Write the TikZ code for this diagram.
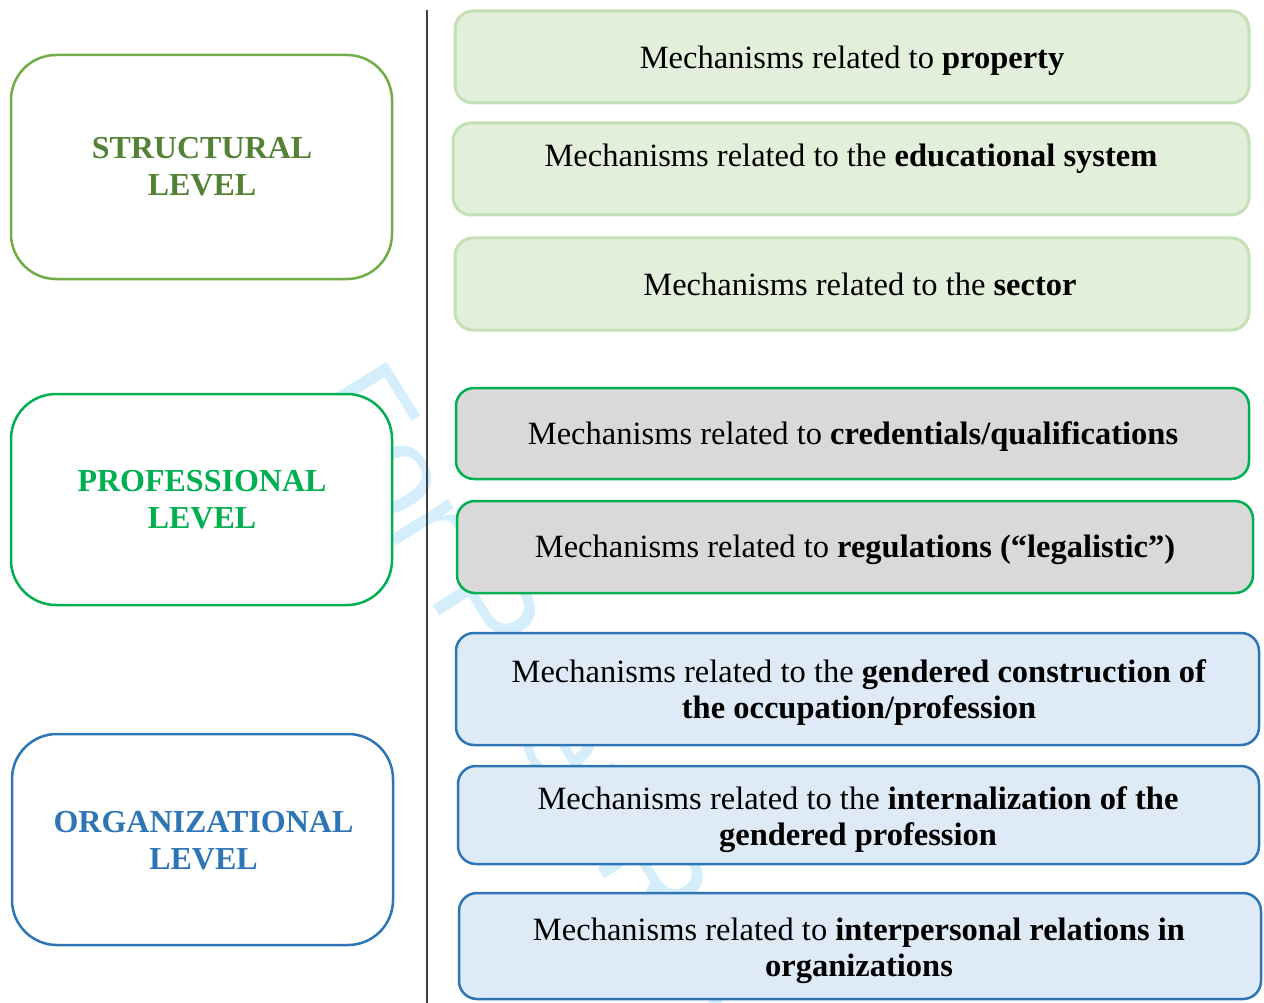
\documentclass[tikz,border=0pt]{standalone}
\usepackage{fontspec}
\setmainfont{Liberation Serif}
\newfontfamily\wmfont{Liberation Sans}
\definecolor{strgreen}{HTML}{70AD47}
\definecolor{strtext}{HTML}{548235}
\definecolor{progreen}{HTML}{00B050}
\definecolor{orgblue}{HTML}{2E75B6}
\definecolor{lightgreen}{HTML}{E2EFDA}
\definecolor{lightgreenborder}{HTML}{C5E0B4}
\definecolor{greyfill}{HTML}{D9D9D9}
\definecolor{lightblue}{HTML}{DEEBF7}
\definecolor{wmcyan}{RGB}{212,238,251}
\definecolor{divider}{RGB}{64,64,64}

\tikzset{
  levelbox/.style={draw, fill=white, rounded corners=45pt, line width=2.5pt,
    minimum width=381pt, inner sep=0pt},
  leveltext/.style={align=center, inner sep=0pt,
    font=\bfseries\fontsize{32}{37}\selectfont},
  mechbox/.style={draw, rounded corners=18pt, line width=2.5pt, inner sep=0pt},
  strbox/.style={mechbox, fill=lightgreen, draw=lightgreenborder, line width=3pt},
  probox/.style={mechbox, fill=greyfill, draw=progreen},
  orgbox/.style={mechbox, fill=lightblue, draw=orgblue},
  mechone/.style={inner sep=0pt, text height=22pt, text depth=7pt,
    font=\fontsize{32.5}{36}\selectfont},
  mechtwo/.style={inner sep=0pt, align=center,
    font=\fontsize{32.5}{36}\selectfont},
}

\begin{document}
\begin{tikzpicture}[x=1pt, y=-1pt]
\useasboundingbox (0,0) rectangle (1264,1003);
\fill[white] (0,0) rectangle (1264,1003);

% background watermark
\node[text=wmcyan, font=\wmfont\fontsize{130}{130}\selectfont, rotate=-58,
  anchor=base west, inner sep=0pt] (wm) at (305,400) {For Peer Review};

% divider between levels and mechanisms
\coordinate (divtop) at (427,10);
\coordinate (divbot) at (427,1003);
\draw[line width=1.8pt, divider] (divtop) -- (divbot);

% level boxes
\node[levelbox, draw=strgreen, minimum height=224pt] (structural) at (201.5,167) {};
\node[leveltext, text=strtext] (structuraltxt) at (202,167) {STRUCTURAL\\LEVEL};

\node[levelbox, draw=progreen, minimum height=211pt] (professional) at (201.5,499.5) {};
\node[leveltext, text=progreen] (professionaltxt) at (202,500) {PROFESSIONAL\\LEVEL};

\node[levelbox, draw=orgblue, minimum height=211pt] (organizational) at (202.5,839.5) {};
\node[leveltext, text=orgblue] (organizationaltxt) at (203.5,840.5) {ORGANIZATIONAL\\LEVEL};

% structural mechanisms
\node[strbox, minimum width=794pt, minimum height=92pt] (m1) at (852,57) {};
\node[mechone] (t1) at (852,61) {Mechanisms related to \textbf{property}};

\node[strbox, minimum width=796pt, minimum height=92pt] (m2) at (851,169) {};
\node[mechone] (t2) at (851,159) {Mechanisms related to the \textbf{educational system}};

\node[strbox, minimum width=794pt, minimum height=92pt] (m3) at (852,284) {};
\node[mechone] (t3) at (860,288) {Mechanisms related to the \textbf{sector}};

% professional mechanisms
\node[probox, minimum width=793pt, minimum height=91pt] (m4) at (852.5,433.5) {};
\node[mechone] (t4) at (853,437) {Mechanisms related to \textbf{credentials/qualifications}};

\node[probox, minimum width=796pt, minimum height=92pt] (m5) at (855,547) {};
\node[mechone] (t5) at (855,550) {Mechanisms related to \textbf{regulations (“legalistic”)}};

% organizational mechanisms
\node[orgbox, minimum width=803pt, minimum height=112pt] (m6) at (857.5,689) {};
\node[mechtwo] (t6) at (859,693) {Mechanisms related to the \textbf{gendered construction of}\\\textbf{the occupation/profession}};

\node[orgbox, minimum width=801pt, minimum height=98pt] (m7) at (858.5,815) {};
\node[mechtwo] (t7) at (858,820) {Mechanisms related to the \textbf{internalization of the}\\\textbf{gendered profession}};

\node[orgbox, minimum width=802pt, minimum height=106pt] (m8) at (860,946) {};
\node[mechtwo] (t8) at (859,951) {Mechanisms related to \textbf{interpersonal relations in}\\\textbf{organizations}};
\end{tikzpicture}
\end{document}
